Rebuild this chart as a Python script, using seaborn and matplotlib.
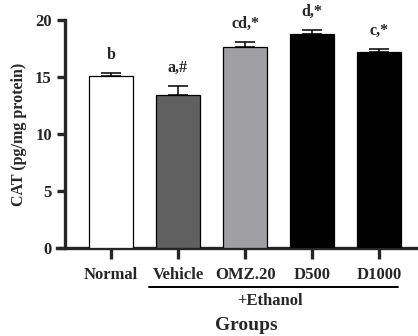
import numpy as np
import pandas as pd
import matplotlib
matplotlib.use("Agg")
import matplotlib.pyplot as plt
import seaborn as sns

groups = ["Normal", "Vehicle", "OMZ.20", "D500", "D1000"]
cat_means = [15.05, 13.4, 17.6, 18.75, 17.15]
cat_sem = [0.27, 0.78, 0.45, 0.37, 0.33]
sig_labels = ["b", "a,#", "cd,*", "d,*", "c,*"]
bar_colors = ["#ffffff", "#606060", "#a0a0a4", "#000000", "#000000"]

sns.set_style("ticks")
plt.rcParams["font.family"] = ["Liberation Serif", "DejaVu Serif"]
plt.rcParams["font.weight"] = "bold"

df = pd.DataFrame({"group": groups, "cat": cat_means})

fig = plt.figure(figsize=(4.18, 3.36), dpi=100)
ax = fig.add_axes([57 / 418, 1 - 248 / 336, 1 - 57 / 418, (248 - 20) / 336])

sns.barplot(data=df, x="group", y="cat", hue="group", palette=bar_colors,
            order=groups, hue_order=groups, legend=False, width=0.66,
            edgecolor="black", linewidth=0.9, ax=ax, zorder=3)

xs = np.arange(len(groups))
ax.errorbar(xs, cat_means, yerr=[np.zeros(len(groups)), cat_sem], fmt="none",
            ecolor="black", elinewidth=1.1, capsize=7, capthick=1.1, zorder=2)

for x, m, e, s in zip(xs, cat_means, cat_sem, sig_labels):
    ax.text(x, m + e + 0.9, s, ha="center", va="bottom", fontsize=11.5,
            fontweight="bold")

ax.set_xlim(-0.806, 4.58)
ax.set_ylim(0, 20)
ax.set_yticks([0, 5, 10, 15, 20])
ax.spines["left"].set_position(("data", -0.687))
ax.spines["left"].set_bounds(0, 20)
for side in ["right", "top"]:
    ax.spines[side].set_visible(False)
for side in ["left", "bottom"]:
    ax.spines[side].set_linewidth(2.4)
ax.tick_params(axis="both", width=2.4, length=6, labelsize=12)
ax.tick_params(axis="x", length=8, pad=6)
for lab in ax.get_xticklabels() + ax.get_yticklabels():
    lab.set_fontweight("bold")

ax.set_xlabel("")
ax.set_ylabel("CAT (pg/mg protein)", fontsize=11.5, fontweight="bold",
              labelpad=6)

fig.add_artist(plt.Line2D([149 / 418, 398 / 418], [1 - 287 / 336] * 2,
                          color="black", linewidth=1.4))
fig.text(270 / 418, 1 - 301 / 336, "+Ethanol", ha="center", va="center",
         fontsize=12, fontweight="bold")
fig.text(246 / 418, 1 - 325 / 336, "Groups", ha="center", va="center",
         fontsize=14, fontweight="bold")

fig.savefig("out.png", dpi=100)
